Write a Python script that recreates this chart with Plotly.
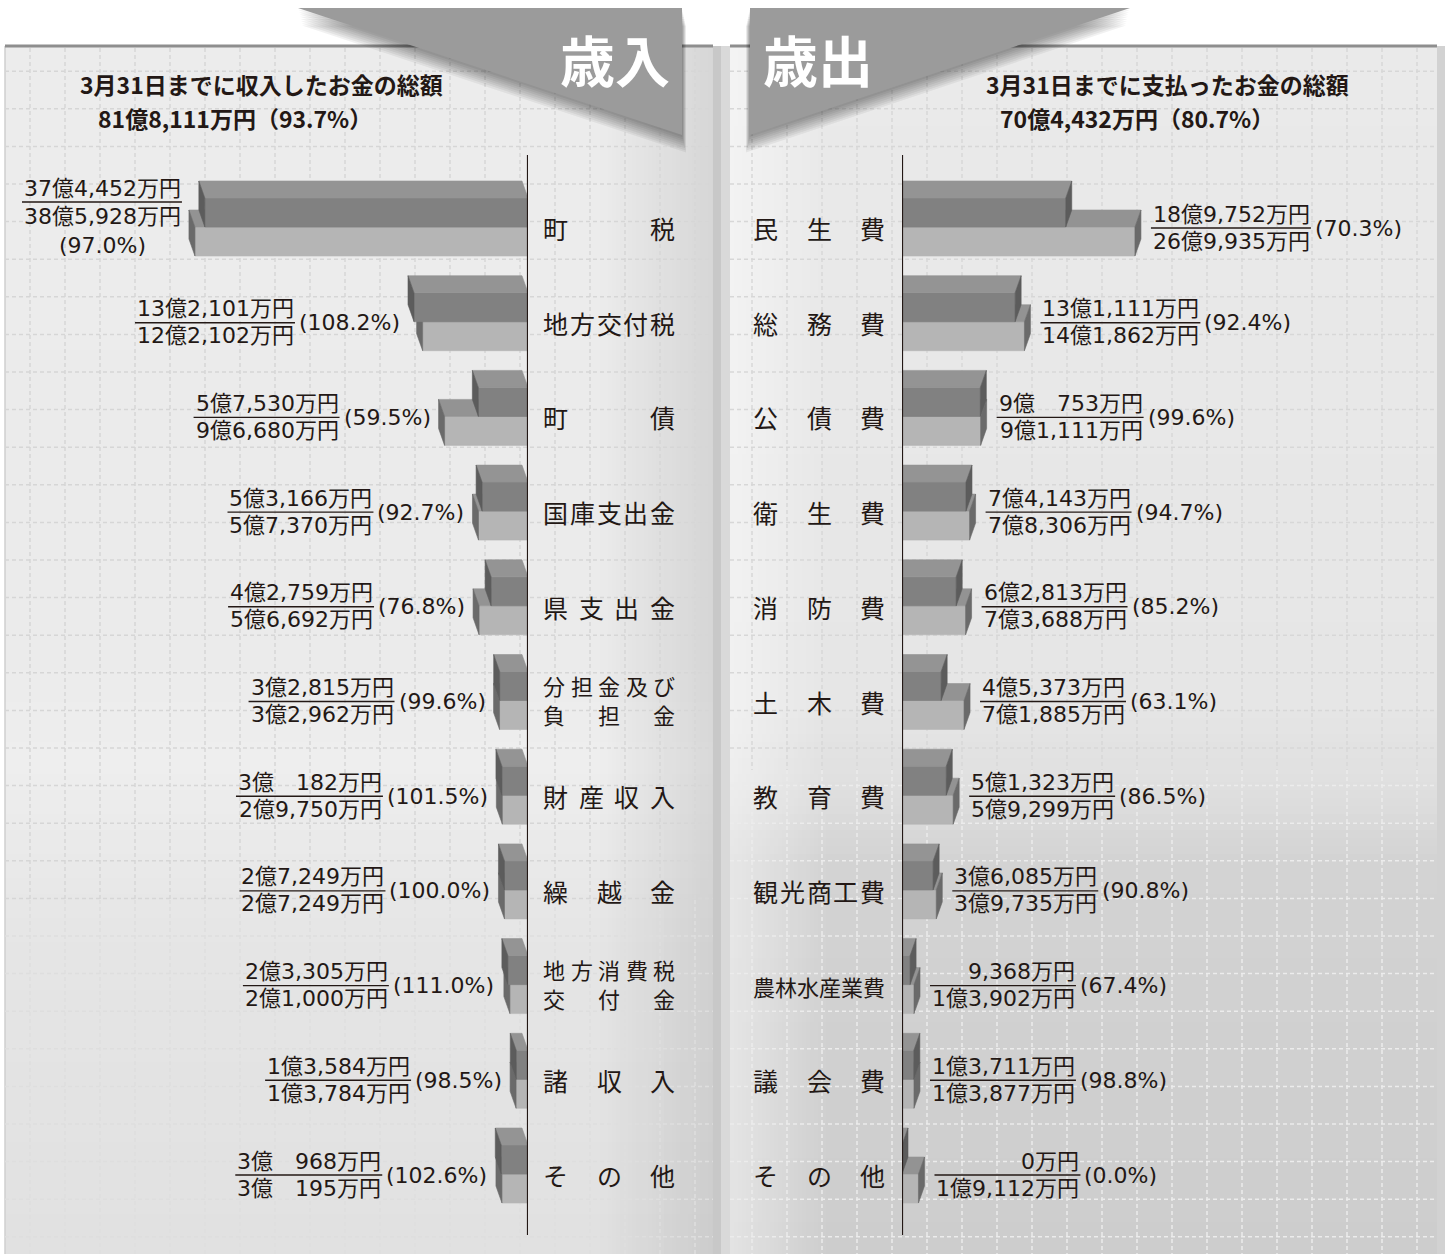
import plotly.graph_objects as go

# ---------------- data (万円) ----------------
rev_categories = ["町税", "地方交付税", "町債", "国庫支出金", "県支出金", "分担金及び\n負担金",
                  "財産収入", "繰越金", "地方消費税\n交付金", "諸収入", "その他"]
rev_actual = [374452, 132101, 57530, 53166, 42759, 32815, 30182, 27249, 23305, 13584, 30968]
rev_budget = [385928, 122102, 96680, 57370, 56692, 32962, 29750, 27249, 21000, 13784, 30195]
rev_pct = [97.0, 108.2, 59.5, 92.7, 76.8, 99.6, 101.5, 100.0, 111.0, 98.5, 102.6]

exp_categories = ["民生費", "総務費", "公債費", "衛生費", "消防費", "土木費", "教育費",
                  "観光商工費", "農林水産業費", "議会費", "その他"]
exp_actual = [189752, 131111, 90753, 74143, 62813, 45373, 51323, 36085, 9368, 13711, 0]
exp_budget = [269935, 141862, 91111, 78306, 73688, 71885, 59299, 39735, 13902, 13877, 19112]
exp_pct = [70.3, 92.4, 99.6, 94.7, 85.2, 63.1, 86.5, 90.8, 67.4, 98.8, 0.0]

rev_total_pct = 93.7
exp_total_pct = 80.7
banner_texts = ["歳入", "歳出"]
total_captions = ["3月31日までに収入したお金の総額", "3月31日までに支払ったお金の総額"]

# ---------------- geometry / style ----------------
W, H = 1445, 1254
AX_L, AX_R = 528, 902          # pixel position of the two zero lines
K = 0.000863                   # pixels per 万円
ROW0, PITCH = 227.0, 94.7      # pixel of first row split line, row pitch
T_PX, DX_PX, DY_PX = 29, 6, 17
GAP_L, GAP_R, PCT_PAD = 8, 12, 5
NUM_SIZE, CAT_SIZE = 22, 25
INK = "#231815"
NUM_FONT = "DejaVu Sans, Noto Sans CJK JP, sans-serif"
JP_FONT = "Noto Sans CJK JP, sans-serif"
COL = dict(b_front="#b5b5b5", b_top="#939393", b_side="#6a6a6a",
           a_front="#818181", a_top="#949494", a_side="#5c5c5c")

t = T_PX / PITCH
dy = DY_PX / PITCH
dx = DX_PX / K


def px(x):
    return x / W


def py(y):
    return 1 - y / H


def yen(v):
    oku, man = divmod(int(v), 10000)
    if oku == 0:
        return f"{man:,}万円"
    if man < 1000:
        return f"{oku}億　{man}万円"
    return f"{oku}億{man:,}万円"


def text_w(s, size=NUM_SIZE):
    w = 0.0
    for ch in s:
        if ch.isdigit():
            w += 0.636
        elif ch in ",.":
            w += 0.318
        elif ch in "()":
            w += 0.39
        elif ch == "%":
            w += 0.95
        elif ch == " ":
            w += 0.318
        else:
            w += 1.0
    return w * size


fig = go.Figure()
shapes = []
annotations = []


# ---------------- background ----------------
def mix(c0, c1, f):
    return tuple(round(c0[k] + (c1[k] - c0[k]) * f) for k in range(3))


def color_at(stops, v):
    for (p0, c0), (p1, c1) in zip(stops, stops[1:]):
        if v <= p1:
            f = (v - p0) / (p1 - p0) if p1 > p0 else 0
            return mix(c0, c1, max(0.0, min(1.0, f)))
    return stops[-1][1]


def vbands(x0, x1, y0, y1, stops, step=8):
    y = y0
    while y < y1:
        yb = min(y + step, y1)
        c = color_at(stops, (y + yb) / 2)
        shapes.append(dict(type="rect", xref="paper", yref="paper", x0=px(x0), x1=px(x1),
                           y0=py(min(yb + 1, y1)), y1=py(y), fillcolor="rgb(%d,%d,%d)" % c,
                           line_width=0, layer="below"))
        y = yb


def hbands(x0, x1, y0, y1, rgb, a0, a1, step=4):
    x = x0
    while x < x1:
        xb = min(x + step, x1)
        f = ((x + xb) / 2 - x0) / (x1 - x0)
        a = a0 + (a1 - a0) * f
        shapes.append(dict(type="rect", xref="paper", yref="paper", x0=px(x), x1=px(xb),
                           y0=py(y1), y1=py(y0), fillcolor="rgba(%d,%d,%d,%.3f)" % (rgb + (a,)),
                           line_width=0, layer="below"))
        x = xb


PANEL_TOP = 46
vbands(5, 713, PANEL_TOP, H, [(46, (236, 236, 236)), (650, (235, 235, 235)),
                              (760, (238, 238, 238)), (950, (229, 229, 229)), (1254, (225, 225, 225))])
hbands(600, 713, PANEL_TOP, H, (0, 0, 0), 0.0, 0.09)
vbands(730, 1437, PANEL_TOP, H, [(46, (234, 234, 234)), (700, (230, 230, 230)), (790, (223, 223, 223)),
                                 (860, (211, 211, 211)), (1254, (205, 205, 205))])
hbands(730, 830, PANEL_TOP, H, (255, 255, 255), 0.45, 0.0)
# spine and outer strips
shapes.append(dict(type="rect", xref="paper", yref="paper", x0=px(713), x1=px(721), y0=0, y1=py(PANEL_TOP),
                   fillcolor="#c8c8c8", line_width=0, layer="below"))
shapes.append(dict(type="rect", xref="paper", yref="paper", x0=px(721), x1=px(730), y0=0, y1=py(PANEL_TOP),
                   fillcolor="#d9d9d9", line_width=0, layer="below"))
shapes.append(dict(type="rect", xref="paper", yref="paper", x0=px(1437), x1=1, y0=0, y1=py(PANEL_TOP),
                   fillcolor="#d2d2d2", line_width=0, layer="below"))
shapes.append(dict(type="line", xref="paper", yref="paper", x0=px(5), x1=px(5), y0=0, y1=py(PANEL_TOP),
                   line=dict(color="#cfcfcf", width=1.5), layer="below"))


# grid
def grid(xs, ys, xspan, color_top, color_bottom, ysplit):
    for x in xs:
        for (ya, yb, c) in [(PANEL_TOP + 2, ysplit, color_top), (ysplit, H, color_bottom)]:
            shapes.append(dict(type="line", xref="paper", yref="paper", x0=px(x), x1=px(x),
                               y0=py(ya), y1=py(yb), line=dict(color=c, width=1.5, dash="4px,3px"),
                               layer="below"))
    for y in ys:
        c = color_top if y < ysplit else color_bottom
        shapes.append(dict(type="line", xref="paper", yref="paper", x0=px(xspan[0]), x1=px(xspan[1]),
                           y0=py(y), y1=py(y), line=dict(color=c, width=1.5, dash="4px,3px"),
                           layer="below"))


ys = [184 + 37.6 * k for k in range(-3, 30) if PANEL_TOP + 8 < 184 + 37.6 * k < H]
grid([30 + 35 * k for k in range(0, 20) if 30 + 35 * k < 710], ys, (5, 713), "#d6d6d6", "#dedede", 900)
grid([x for x in [1172 + 35 * k for k in range(-13, 8)] if 740 < x < 1435], ys, (730, 1437),
     "#d7d7d7", "#ececec", 770)

# panel top borders
for (a, b) in [(5, 713), (730, 1437)]:
    shapes.append(dict(type="line", xref="paper", yref="paper", x0=px(a), x1=px(b), y0=py(PANEL_TOP),
                       y1=py(PANEL_TOP), line=dict(color="#8e8e8e", width=3), layer="below"))


# ---------------- bars (3D prisms) ----------------
def prism_paths(values, tops, back_start):
    fx, fy, tx, ty, sx, sy = [], [], [], [], [], []
    for v, y0 in zip(values, tops):
        y1 = y0 + t
        fx += [0, v, v, 0, 0, None]
        fy += [y0, y0, y1, y1, y0, None]
        tx += [0, v, v + dx, back_start, 0, None]
        ty += [y0, y0, y0 - dy, y0 - dy, y0, None]
        sx += [v, v + dx, v + dx, v, v, None]
        sy += [y0, y0 - dy, y1 - dy, y1, y0, None]
    return [(fx, fy), (tx, ty), (sx, sy)]


def add_panel_bars(actual, budget, xaxis, back_start):
    rows = list(range(len(actual)))
    b_paths = prism_paths(budget, rows, back_start)
    a_paths = prism_paths(actual, [r - t for r in rows], back_start)
    for (xs, ys_), c in zip(b_paths + a_paths,
                            [COL["b_front"], COL["b_top"], COL["b_side"],
                             COL["a_front"], COL["a_top"], COL["a_side"]]):
        fig.add_trace(go.Scatter(x=xs, y=ys_, xaxis=xaxis, yaxis="y", mode="lines", fill="toself",
                                 fillcolor=c, line=dict(color=c, width=0.6), hoverinfo="skip",
                                 showlegend=False))


add_panel_bars(rev_actual, rev_budget, "x", dx)
add_panel_bars(exp_actual, exp_budget, "x2", 0)


# ---------------- labels ----------------
def ann(text, **kw):
    d = dict(text=text, showarrow=False, font=dict(family=NUM_FONT, size=NUM_SIZE, color=INK),
             borderpad=0, borderwidth=0)
    d.update(kw)
    annotations.append(d)


def frac_line(xref, xa, xb, yrow):
    shapes.append(dict(type="line", xref=xref, yref="y", x0=xa, x1=xb, y0=yrow, y1=yrow,
                       line=dict(color=INK, width=1.4), layer="above"))


# revenue values (left)
for i, (a, b, p) in enumerate(zip(rev_actual, rev_budget, rev_pct)):
    M = max(a, b)
    num, den, pct = yen(a), yen(b), f"({p:.1f}%)"
    fw = max(text_w(num), text_w(den))
    pw = text_w(pct)
    edge = DX_PX + GAP_L
    avail = AX_L - M * K - edge - 15
    if avail >= fw + PCT_PAD + pw:
        off = edge + pw + PCT_PAD
        ann(num, x=M, xref="x", y=i, yref="y", xanchor="right", yanchor="middle", xshift=-off, yshift=13)
        ann(den, x=M, xref="x", y=i, yref="y", xanchor="right", yanchor="middle", xshift=-off, yshift=-14)
        ann(pct, x=M, xref="x", y=i, yref="y", xanchor="right", yanchor="middle", xshift=-edge, yshift=-1)
        frac_line("x", M + (off - 1) / K, M + (off + fw + 2) / K, i + 1 / PITCH)
    else:
        ann(num, x=M, xref="x", y=i, yref="y", xanchor="right", yanchor="middle", xshift=-edge, yshift=39)
        ann(den, x=M, xref="x", y=i, yref="y", xanchor="right", yanchor="middle", xshift=-edge, yshift=11)
        ann(pct, x=M, xref="x", y=i, yref="y", xanchor="center", yanchor="middle",
            xshift=-(edge + fw / 2), yshift=-18)
        frac_line("x", M + (edge - 1) / K, M + (edge + fw + 2) / K, i - 25 / PITCH)

# expenditure values (right)
for i, (a, b, p) in enumerate(zip(exp_actual, exp_budget, exp_pct)):
    M = max(a, b)
    num, den, pct = yen(a), yen(b), f"({p:.1f}%)"
    fw = max(text_w(num), text_w(den))
    edge = DX_PX + GAP_R
    ann(num, x=M, xref="x2", y=i, yref="y", xanchor="right", yanchor="middle", xshift=edge + fw, yshift=13)
    ann(den, x=M, xref="x2", y=i, yref="y", xanchor="right", yanchor="middle", xshift=edge + fw, yshift=-14)
    ann(pct, x=M, xref="x2", y=i, yref="y", xanchor="left", yanchor="middle",
        xshift=edge + fw + PCT_PAD, yshift=-1)
    frac_line("x2", M + (edge - 2) / K, M + (edge + fw + 1) / K, i + 1 / PITCH)


# category labels, characters spread across a fixed box
def spread(line, box_left, box_w, row, yshift, size):
    n = len(line)
    f = min(size, box_w / n)
    if n == 1:
        centers = [box_left + box_w / 2]
    else:
        pitch = (box_w - f) / (n - 1)
        centers = [box_left + f / 2 + k * pitch for k in range(n)]
    for ch, cx in zip(line, centers):
        annotations.append(dict(text=ch, x=px(cx), xref="paper", y=row, yref="y", yshift=yshift,
                                xanchor="center", yanchor="middle", showarrow=False,
                                borderpad=0, borderwidth=0,
                                font=dict(family=JP_FONT, size=f, color=INK)))


for cats, box_left in [(rev_categories, 543), (exp_categories, 753)]:
    for i, cat in enumerate(cats):
        lines = cat.split("\n")
        if len(lines) == 1:
            spread(lines[0], box_left, 132, i, -1, CAT_SIZE)
        else:
            spread(lines[0], box_left, 132, i, 16, 22)
            spread(lines[1], box_left, 132, i, -13, 22)

# zero lines
for xref in ["x", "x2"]:
    shapes.append(dict(type="line", xref=xref, yref="paper", x0=0, x1=0, y0=py(1235), y1=py(155),
                       line=dict(color=INK, width=2.2), layer="above"))

# ---------------- banners & titles ----------------
banners = [
    [(298, 8), (682, 8), (682, 135)],
    [(750, 8), (1130, 8), (750, 135)],
]
for bi, tri in enumerate(banners):
    sgn = 1 if bi == 0 else -1
    for d in range(1, 9):
        pts = [(x + sgn * 0.5 * d, y + 2.2 * d) for x, y in tri]
        path = "M " + " L ".join(f"{px(x)},{py(y)}" for x, y in pts) + " Z"
        shapes.append(dict(type="path", xref="paper", yref="paper", path=path,
                           fillcolor="rgba(0,0,0,0.055)", line_width=0, layer="above"))
    path = "M " + " L ".join(f"{px(x)},{py(y)}" for x, y in tri) + " Z"
    shapes.append(dict(type="path", xref="paper", yref="paper", path=path,
                       fillcolor="#9b9b9b", line_width=0, layer="above"))

for text, cx in zip(banner_texts, [615, 818]):
    annotations.append(dict(text=f"<b>{text}</b>", x=px(cx), y=py(58), xref="paper", yref="paper",
                            xanchor="center", yanchor="middle", showarrow=False,
                            font=dict(family=JP_FONT, size=55, color="white")))

totals = [(sum(rev_actual), rev_total_pct), (sum(exp_actual), exp_total_pct)]
for cap, (tot, tp), c1, c2 in zip(total_captions, totals, [261, 1167], [235, 1137]):
    annotations.append(dict(text=f"<b>{cap}</b>", x=px(c1), y=py(84), xref="paper", yref="paper",
                            xanchor="center", yanchor="middle", showarrow=False, borderpad=0,
                            font=dict(family=JP_FONT, size=23, color=INK)))
    annotations.append(dict(text=f"<b>{yen(tot)}（{tp:.1f}%）</b>", x=px(c2), y=py(118),
                            xref="paper", yref="paper", xanchor="center", yanchor="middle",
                            showarrow=False, borderpad=0,
                            font=dict(family=JP_FONT, size=23, color=INK)))

fig.update_layout(
    width=W, height=H, autosize=False,
    margin=dict(l=0, r=0, t=0, b=0, pad=0),
    template="none",
    paper_bgcolor="white", plot_bgcolor="rgba(0,0,0,0)",
    showlegend=False,
    xaxis=dict(domain=[0, AX_L / W], range=[AX_L / K, 0], visible=False, fixedrange=True, anchor="y"),
    xaxis2=dict(domain=[AX_R / W, 1], range=[0, (W - AX_R) / K], visible=False, fixedrange=True, anchor="y"),
    yaxis=dict(domain=[0, 1], range=[(H - ROW0) / PITCH, -ROW0 / PITCH], visible=False, fixedrange=True,
               anchor="x"),
    shapes=shapes,
    annotations=annotations,
)

fig.write_html("out.html", config={"displayModeBar": False},
               post_script="document.body.style.margin='0px';")
